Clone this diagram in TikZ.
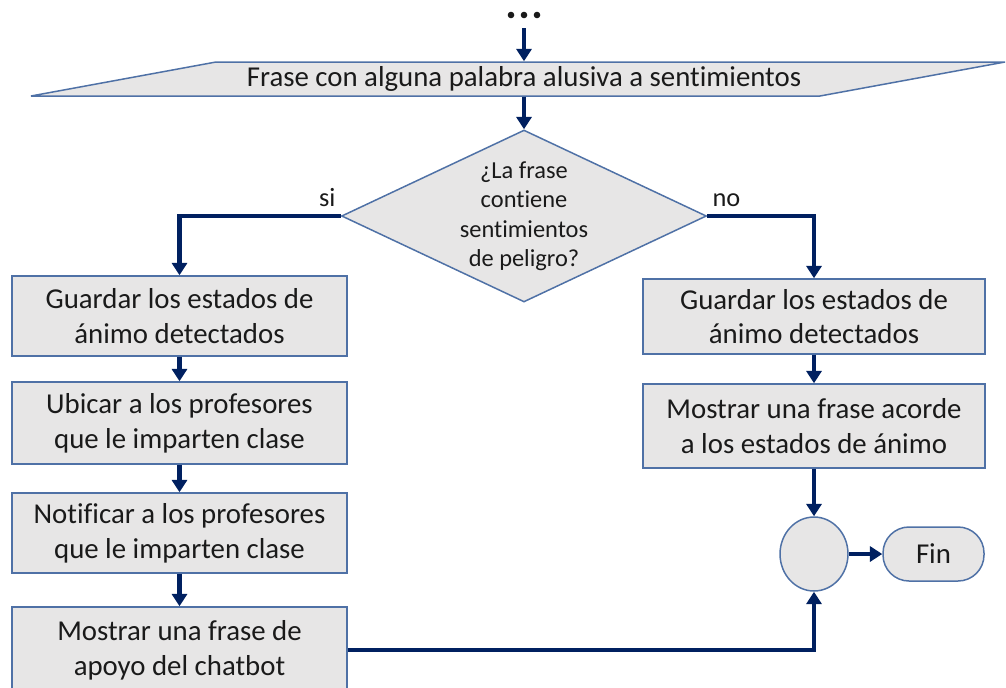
\documentclass[tikz,border=0pt]{standalone}
\usepackage{fontspec}
\setmainfont[Ligatures=NoCommon]{Carlito}
\usetikzlibrary{shapes.geometric,arrows.meta,positioning}
\definecolor{relleno}{HTML}{E7E6E6}
\definecolor{borde}{HTML}{4F71A6}
\definecolor{flecha}{HTML}{002060}
\definecolor{texto}{HTML}{1A1A1A}
\tikzset{
  caja/.style={draw=borde, fill=relleno, line width=0.85pt, text=texto, align=center,
    font=\fontsize{16.4}{19.8}\selectfont, inner sep=0pt},
  flujo/.style={draw=flecha, line width=2.3pt, -{Triangle[width=8.5pt,length=7pt]}},
  etiqueta/.style={text=texto, font=\fontsize{15}{18}\selectfont, inner sep=0pt},
}
\begin{document}
\begin{tikzpicture}[x=0.02cm, y=-0.02cm]
    \useasboundingbox (0,0) rectangle (1006,687);
    % puntos de continuacion
    \foreach \dx in {-13,0,13}
        \fill[texto] (524+\dx,15) circle (0.066cm);
    \coordinate (inicio) at (524,28);
    % entrada
    \draw[draw=borde, fill=relleno, line width=0.85pt] (31,96) -- (820,96) -- (1005,62) -- (216,62) -- cycle;
    \node[caja, draw=none, fill=none, minimum height=0.68cm] (frase) at (524,79)
        {Frase con alguna palabra alusiva a sentimientos};
    % decision
    \node[caja, diamond, aspect=2.12, minimum width=7.3cm, minimum height=3.44cm,
        font=\fontsize{13.9}{16.8}\selectfont] (pregunta) at (524,216)
        {¿La frase\\contiene\\sentimientos\\de peligro?};
    \node[etiqueta, above left=0.18cm and 0.1cm of pregunta.west] (si) {si};
    \node[etiqueta, above right=0.18cm and 0.1cm of pregunta.east] (no) {no};
    % rama si
    \node[caja, minimum width=6.7cm, minimum height=1.6cm] (guardarsi) at (179.5,316)
        {Guardar los estados de\\ánimo detectados};
    \node[caja, minimum width=6.7cm, minimum height=1.64cm] (ubicar) at (179.5,423)
        {Ubicar a los profesores\\que le imparten clase};
    \node[caja, minimum width=6.7cm, minimum height=1.6cm] (notificar) at (179.5,533)
        {Notificar a los profesores\\que le imparten clase};
    \node[caja, minimum width=6.7cm, minimum height=1.72cm] (apoyo) at (179.5,650)
        {Mostrar una frase de\\apoyo del chatbot};
    % rama no
    \node[caja, minimum width=6.84cm, minimum height=1.5cm] (guardarno) at (814,316.5)
        {Guardar los estados de\\ánimo detectados};
    \node[caja, minimum width=6.84cm, minimum height=1.68cm] (acorde) at (814,426)
        {Mostrar una frase acorde\\a los estados de ánimo};
    % union y fin
    \node[caja, ellipse, minimum width=1.36cm, minimum height=1.48cm] (union) at (814,554) {};
    \node[caja, rounded corners=0.52cm, minimum width=2.02cm, minimum height=1.08cm] (fin) at (933.5,554) {Fin};
    % conectores
    \draw[flujo] (inicio) -- (frase.north);
    \draw[flujo] (frase.south) -- (pregunta.north);
    \draw[flujo] (pregunta.west) -| (guardarsi.north);
    \draw[flujo] (pregunta.east) -| (guardarno.north);
    \draw[flujo] (guardarsi) -- (ubicar);
    \draw[flujo] (ubicar) -- (notificar);
    \draw[flujo] (notificar) -- (apoyo);
    \draw[flujo] (guardarno) -- (acorde);
    \draw[flujo] (acorde) -- (union);
    \draw[flujo] (union) -- (fin);
    \draw[flujo] (apoyo.east) -| (union.south);
\end{tikzpicture}
\end{document}
